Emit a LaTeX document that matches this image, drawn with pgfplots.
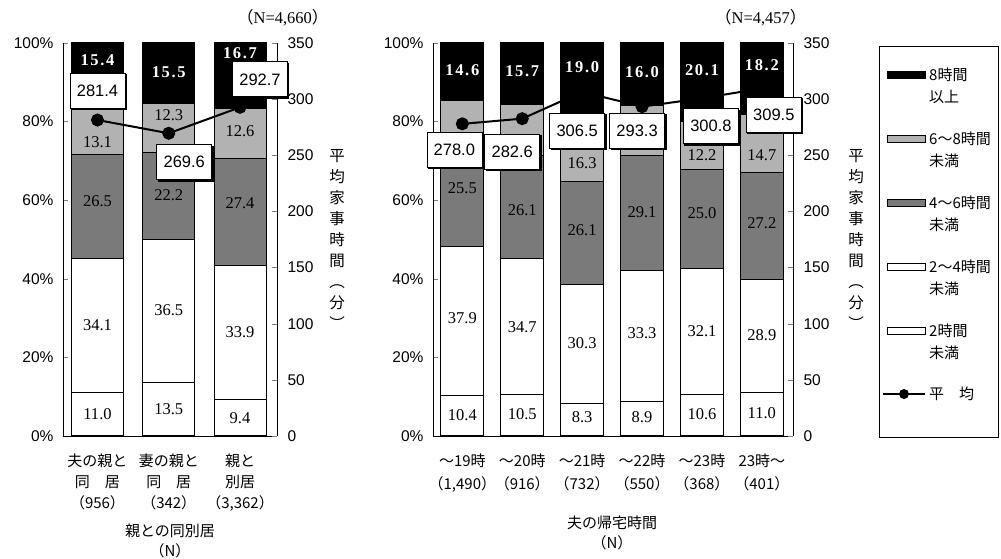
\documentclass[border=0pt]{standalone}
\usepackage{fontspec}
\setmainfont{Liberation Serif}
\newfontfamily\jp{Noto Sans CJK JP}
\newfontfamily\sansnum{Liberation Sans}
\newfontfamily\spreadnum[LetterSpace=10]{Liberation Serif}
\usepackage{pgfplots}
\usepackage{pgfplotstable}
\pgfplotsset{compat=1.18}
\usetikzlibrary{shadows}

\definecolor{sixeight}{gray}{0.70}
\definecolor{fourtosix}{gray}{0.48}

% share of wives by daily housework time (%), stacked from the bottom
\pgfplotstableread{
x  a    b    c    d    e
0  11.0 34.1 26.5 13.1 15.4
1  13.5 36.5 22.2 12.3 15.5
2  9.4  33.9 27.4 12.6 16.7
}\resid
\pgfplotstableread{
x  a    b    c    d    e
0  10.4 37.9 25.5 11.6 14.6
1  10.5 34.7 26.1 13.0 15.7
2  8.3  30.3 26.1 16.3 19.0
3  8.9  33.3 29.1 12.7 16.0
4  10.6 32.1 25.0 12.2 20.1
5  11.0 28.9 27.2 14.7 18.2
}\homecoming
% average housework time (minutes) with label offsets
\pgfplotstableread{
x  y     dx   dy
0  281.4 0    29
1  269.6 15.5 -29
2  292.7 20   28
}\avgresid
\pgfplotstableread{
x  y     dx   dy
0  278.0 -8   -26
1  282.6 -10  -33
2  306.5 -5   -39
3  293.3 -5   -24
4  300.8 9    -28
5  309.5 12   -26
}\avghome

\pgfplotsset{
  panelL/.style={scale only axis, width=214pt, height=393pt,
    at={(63pt,123pt)}, anchor=south west, xmin=-0.484, xmax=2.519},
  panelR/.style={scale only axis, width=360pt, height=393pt,
    at={(433pt,123pt)}, anchor=south west, xmin=-0.49, xmax=5.52},
  barax/.style={ybar stacked, bar width=0.73, ymin=0, ymax=100,
    axis y line*=left, axis x line*=bottom,
    ytick={0,20,...,100}, yticklabels={0\%,20\%,40\%,60\%,80\%,100\%},
    yticklabel style={font=\sansnum\fontsize{15.5}{18}\selectfont, xshift=-6pt},
    tick align=inside, major tick length=5pt,
    xtick=data, xtick style={draw=none},
    xticklabel style={align=center, font=\jp\fontsize{15}{21}\selectfont, yshift=-14pt},
    axis line style={line width=0.7pt},
    every axis plot/.append style={draw=black, line width=1pt}},
  segax/.style={hide axis, ymin=0, ymax=100, clip=false},
  seglab/.style={draw=none, mark=none, nodes near coords, point meta=explicit symbolic,
    every node near coord/.append style={anchor=center, inner sep=0pt,
      font=\fontsize{16.5}{18}\selectfont, text=#1}},
  toplab/.style={draw=none, mark=none, nodes near coords, point meta=explicit symbolic,
    every node near coord/.append style={anchor=center, inner sep=0pt,
      font=\spreadnum\bfseries\fontsize{16.5}{18}\selectfont, text=white}},
  lineax/.style={ymin=0, ymax=350, axis y line*=right, axis x line=none,
    ytick={0,50,...,350}, tick align=inside, major tick length=5pt,
    yticklabel style={font=\sansnum\fontsize{15.5}{18}\selectfont, xshift=7pt},
    /pgf/number format/assume math mode=true,
    axis line style={line width=0.7pt}, clip=false},
  avgline/.style={black, line width=2pt, mark=*, mark size=5.5pt,
    mark options={fill=black, solid},
    point meta=y,
    visualization depends on={\thisrow{dx} \as \myDx},
    visualization depends on={\thisrow{dy} \as \myDy},
    nodes near coords={\pgfmathprintnumber[fixed,fixed zerofill,precision=1]{\pgfplotspointmeta}},
    every node near coord/.append style={anchor=center, xshift=\myDx pt, yshift=\myDy pt,
      draw=black, fill=white, text=black, line width=0.7pt,
      minimum width=55pt, minimum height=35pt, inner sep=2pt,
      font=\sansnum\fontsize{16.5}{19}\selectfont,
      drop shadow={shadow xshift=1.3pt, shadow yshift=-1.3pt, fill=black, opacity=1}}},
}

\begin{document}
\begin{tikzpicture}
\useasboundingbox (0pt,0pt) rectangle (1001pt,559pt);

% ---------- left panel: living with parents ----------
\begin{axis}[panelL, barax,
  xticklabels={{夫の親と\\同\quad 居\\（956）},{妻の親と\\同\quad 居\\（342）},{親と\\別居\\（3,362）}}]
  \addplot[fill=white] table[x=x,y=a]{\resid};
  \addplot[fill=white] table[x=x,y=b]{\resid};
  \addplot[fill=fourtosix] table[x=x,y=c]{\resid};
  \addplot[fill=sixeight] table[x=x,y=d]{\resid};
  \addplot[fill=black] table[x=x,y=e]{\resid};
\end{axis}
\begin{axis}[panelL, segax]
  \addplot[toplab] coordinates {(0,95.7)[15.4] (1,92.6)[15.5] (2,97.5)[16.7]};
  \addplot[seglab=black] coordinates {
    (0,74.8)[13.1] (0,59.8)[26.5] (0,28.2)[34.1] (0,5.6)[11.0]
    (1,81.7)[12.3] (1,61.3)[22.2] (1,32.1)[36.5] (1,6.9)[13.5]
    (2,77.6)[12.6] (2,59.3)[27.4] (2,26.5)[33.9] (2,4.6)[9.4]};
\end{axis}
\begin{axis}[panelL, lineax]
  \addplot[avgline] table[x=x,y=y]{\avgresid};
\end{axis}

% ---------- right panel: husband's homecoming time ----------
\begin{axis}[panelR, barax, bar width=0.72,
  xticklabel style={font=\jp\fontsize{15}{23}\selectfont},
  xticklabels={{～19時\\（1,490）},{～20時\\（916）},{～21時\\（732）},{～22時\\（550）},{～23時\\（368）},{23時～\\（401）}}]
  \addplot[fill=white] table[x=x,y=a]{\homecoming};
  \addplot[fill=white] table[x=x,y=b]{\homecoming};
  \addplot[fill=fourtosix] table[x=x,y=c]{\homecoming};
  \addplot[fill=sixeight] table[x=x,y=d]{\homecoming};
  \addplot[fill=black] table[x=x,y=e]{\homecoming};
\end{axis}
\begin{axis}[panelR, segax]
  \addplot[toplab] coordinates {(0,93.1)[14.6] (1,92.9)[15.7] (2,93.9)[19.0]
    (3,92.6)[16.0] (4,93.1)[20.1] (5,94.4)[18.2]};
  \addplot[seglab=black] coordinates {
    (0,63.1)[25.5] (0,30.0)[37.9] (0,5.3)[10.4]
    (1,57.5)[26.1] (1,27.7)[34.7] (1,5.6)[10.5]
    (2,69.5)[16.3] (2,52.4)[26.1] (2,23.7)[30.3] (2,4.8)[8.3]
    (3,57.0)[29.1] (3,26.2)[33.3] (3,4.8)[8.9]
    (4,71.5)[12.2] (4,56.7)[25.0] (4,26.7)[32.1] (4,5.6)[10.6]
    (5,71.5)[14.7] (5,54.2)[27.2] (5,25.7)[28.9] (5,5.9)[11.0]};
\end{axis}
\begin{axis}[panelR, lineax]
  \addplot[avgline] table[x=x,y=y]{\avghome};
\end{axis}

% ---------- titles and axis captions ----------
\node[anchor=east, font=\fontsize{16.5}{18}\selectfont] at (332pt,541pt) {{\jp （}N=4,660{\jp ）}};
\node[anchor=east, font=\fontsize{16.5}{18}\selectfont] at (810pt,541pt) {{\jp （}N=4,457{\jp ）}};
\node[font=\jp\fontsize{15}{18}\selectfont] at (170pt,28pt) {親との同別居};
\node[font=\jp\fontsize{15}{18}\selectfont] at (170pt,8pt) {（N）};
\node[font=\jp\fontsize{15}{18}\selectfont] at (612pt,36pt) {夫の帰宅時間};
\node[font=\jp\fontsize{15}{18}\selectfont] at (612pt,16pt) {（N）};
\node[align=center, font=\jp\fontsize{15.5}{21}\selectfont] at (337pt,319pt) {平\\均\\家\\事\\時\\間\\︵\\分\\︶};
\node[align=center, font=\jp\fontsize{15.5}{21}\selectfont] at (856pt,319pt) {平\\均\\家\\事\\時\\間\\︵\\分\\︶};

% ---------- legend ----------
\draw[line width=0.8pt] (879pt,122pt) rectangle (998pt,513pt);
\begin{scope}[every node/.style={anchor=west, inner sep=0pt, font=\jp\fontsize{15}{18}\selectfont}]
  \draw[fill=black, line width=0.6pt] (887pt,480.5pt) rectangle (925pt,487.5pt);
  \node at (929pt,484pt) {8時間};
  \node at (929pt,462pt) {以上};
  \draw[fill=sixeight, line width=0.6pt] (887pt,416.5pt) rectangle (925pt,423.5pt);
  \node at (929pt,420pt) {6～8時間};
  \node at (929pt,398pt) {未満};
  \draw[fill=fourtosix, line width=0.6pt] (887pt,352.5pt) rectangle (925pt,359.5pt);
  \node at (929pt,356pt) {4～6時間};
  \node at (929pt,334pt) {未満};
  \draw[fill=white, line width=0.8pt] (887pt,288.5pt) rectangle (925pt,295.5pt);
  \node at (929pt,292pt) {2～4時間};
  \node at (929pt,270pt) {未満};
  \draw[fill=white, line width=0.8pt] (887pt,224.5pt) rectangle (925pt,231.5pt);
  \node at (929pt,228pt) {2時間};
  \node at (929pt,206pt) {未満};
  \draw[line width=2pt] (883pt,165pt) -- (925pt,165pt);
  \fill (904pt,165pt) circle (5pt);
  \node at (929pt,165pt) {平\quad 均};
\end{scope}
\end{tikzpicture}
\end{document}
